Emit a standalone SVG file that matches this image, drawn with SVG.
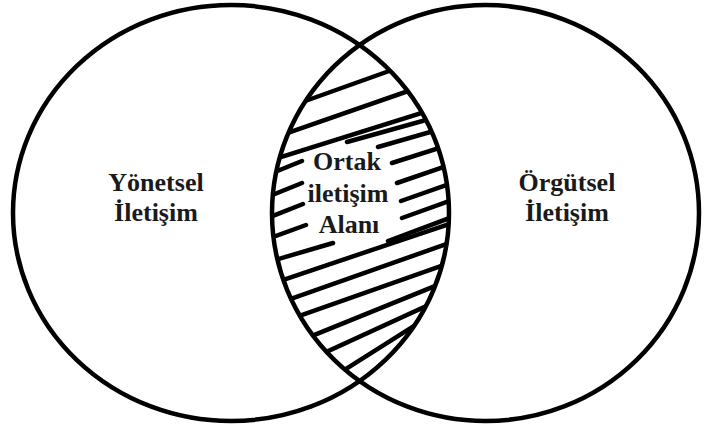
<svg xmlns="http://www.w3.org/2000/svg" width="704" height="435" viewBox="0 0 704 435">
<style>
.ring{fill:none;stroke:#000;stroke-width:4.5}
.hatch line{stroke:#000;stroke-width:4.5;stroke-linecap:round}
.lbl{font-family:"Liberation Serif","Times New Roman",serif;font-weight:bold;font-size:26px;fill:#1a1a1a;text-anchor:middle}
</style>
<defs>
<clipPath id="clipL"><ellipse cx="231" cy="213" rx="218" ry="208"/></clipPath>
<clipPath id="clipR"><ellipse cx="485.5" cy="213" rx="213.5" ry="208"/></clipPath>
</defs>
<rect width="704" height="435" fill="#fff"/>
<g id="node-ortak">
<g clip-path="url(#clipL)"><g clip-path="url(#clipR)"><g class="hatch">
<line x1="280" y1="110" x2="420" y2="60"/>
<line x1="270" y1="139" x2="440" y2="80"/>
<line x1="265" y1="162" x2="450" y2="104"/>
<line x1="347" y1="142" x2="455" y2="112"/>
<line x1="378" y1="147" x2="455" y2="125"/>
<line x1="392" y1="163" x2="455" y2="143"/>
<line x1="265" y1="176" x2="302" y2="161"/>
<line x1="265" y1="198" x2="302" y2="183"/>
<line x1="265" y1="219" x2="303" y2="204"/>
<line x1="265" y1="240" x2="306" y2="225"/>
<line x1="397" y1="183" x2="455" y2="163"/>
<line x1="401" y1="201" x2="455" y2="182"/>
<line x1="402" y1="218" x2="455" y2="199"/>
<line x1="388" y1="241" x2="455" y2="216"/>
<line x1="265" y1="263" x2="333" y2="243"/>
<line x1="265" y1="286" x2="455" y2="222"/>
<line x1="265" y1="308" x2="455" y2="241"/>
<line x1="265" y1="328" x2="455" y2="261"/>
<line x1="265" y1="355" x2="455" y2="278"/>
<line x1="265" y1="380" x2="455" y2="293"/>
<line x1="300" y1="398" x2="455" y2="300"/>
</g></g></g>
<text class="lbl" x="347" y="170">Ortak</text>
<text class="lbl" x="348" y="202">iletişim</text>
<text class="lbl" x="349" y="233">Alanı</text>
</g>
<g id="node-yonetsel">
<ellipse class="ring" cx="231" cy="213" rx="218" ry="208"/>
<text class="lbl" x="156" y="191">Yönetsel</text>
<text class="lbl" x="156" y="221">İletişim</text>
</g>
<g id="node-orgutsel">
<ellipse class="ring" cx="485.5" cy="213" rx="213.5" ry="208"/>
<text class="lbl" x="567" y="191">Örgütsel</text>
<text class="lbl" x="567" y="221">İletişim</text>
</g>
</svg>
